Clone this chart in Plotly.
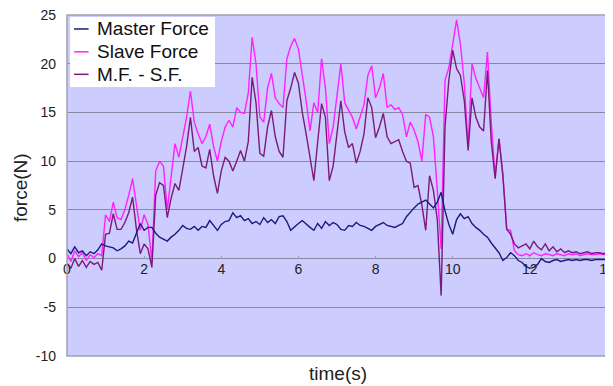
import plotly.graph_objects as go

time_s = [round(i * 0.1, 1) for i in range(141)]

master_force = [
    1.0, 0.5, 1.2, 0.6, 0.8, 0.3, 0.7, 0.5, 0.9, 1.5,
    1.3, 1.2, 1.1, 0.8, 1.0, 1.3, 1.8, 1.6, 2.6, 3.6,
    2.9, 3.2, 3.2, 2.6, 2.2, 2.0, 1.8, 2.2, 2.5, 2.9,
    3.4, 3.1, 3.0, 3.3, 2.9, 3.3, 3.2, 3.9, 3.4, 2.9,
    3.5, 3.8, 3.9, 4.7, 4.2, 4.4, 3.9, 4.1, 3.6, 3.8,
    3.5, 4.2, 3.7, 4.0, 3.6, 4.3, 4.4, 3.8, 2.9, 3.3,
    3.6, 3.9, 3.5, 3.2, 2.9, 3.6, 3.1, 3.8, 3.4, 3.7,
    3.5, 3.0, 2.9, 3.4, 3.3, 3.7, 3.4, 3.3, 3.1, 2.9,
    3.3, 3.5, 3.7, 3.4, 3.3, 3.2, 3.4, 3.6, 4.3, 4.8,
    5.2, 5.6, 5.8, 6.0, 5.6, 5.2, 5.8, 6.8, 4.9, 3.5,
    2.5, 4.0, 4.6, 4.1, 4.3, 3.6, 3.2, 2.9, 2.5, 2.2,
    1.6, 1.1, 0.6, -0.2, 0.1, 0.6, 0.3, -0.2, -0.4, -0.8,
    -1.0, -0.9, -0.6, 0.0, -0.3, -0.4, -0.2, -0.1, -0.3, -0.2,
    -0.1, -0.2, -0.1, -0.2, -0.1, -0.1, -0.2, -0.1, -0.1, -0.1,
    -0.1,
]

slave_force = [
    0.5, -0.3, 0.8, 0.2, 0.6, -0.2, 0.4, 0.1, 0.5, 0.3,
    4.5, 3.8, 5.8, 4.2, 4.0, 5.0, 6.5, 8.2, 5.5, 2.9,
    4.5, 3.5, -0.3, 9.0, 10.0, 9.5, 5.0, 8.5, 11.8, 10.4,
    12.5, 14.5, 17.2, 14.0, 12.8, 11.8, 12.5, 13.8, 11.5, 10.0,
    12.0, 13.5, 14.2, 13.5, 15.5, 15.0, 14.9, 17.0, 22.7, 20.0,
    14.5, 14.0, 17.5, 19.0, 16.5, 15.9, 15.5, 20.5, 21.8, 22.6,
    21.5, 19.0, 16.2, 13.1, 16.0, 15.0, 20.5, 17.5, 11.8, 13.5,
    17.0, 20.0, 16.0, 15.3, 14.5, 13.3, 14.5, 15.8, 18.8, 19.8,
    16.5, 17.5, 19.0, 15.5, 15.8, 15.3, 15.5, 14.8, 12.5, 14.0,
    13.2, 12.0, 10.0, 14.8, 14.5, 12.5, 7.0, 1.0, 18.3, 19.6,
    22.0, 24.5, 22.0, 18.0, 11.5, 20.0, 18.5, 17.5, 16.5, 21.2,
    14.0, 8.5, 12.3, 8.7, 3.0, 2.9, 0.8, 0.4, 0.3, 0.5,
    0.3, 0.6, 0.4, 0.3, 0.5, 0.4, 0.3, 0.5, 0.4, 0.3,
    0.5, 0.4, 0.5, 0.3, 0.4, 0.5, 0.4, 0.4, 0.5, 0.4,
    0.4,
]

mf_minus_sf = [
    -0.5, -1.0, 0.0, -0.8, -0.2, -0.9, -0.3, -0.6, -0.4, -1.2,
    2.5, 2.6, 4.6, 3.0, 3.0, 3.7, 4.7, 6.3, 3.0, 0.5,
    1.5, 1.0, -0.9, 6.5, 7.8, 7.5, 4.2, 6.2, 7.7, 7.0,
    9.2, 11.5, 14.5, 11.0, 11.4, 9.5, 9.3, 11.2, 8.5, 6.7,
    9.0, 10.4, 10.0, 9.0, 10.0, 11.1, 10.0, 12.0, 18.6, 16.0,
    10.8, 10.5, 13.5, 15.2, 12.5, 11.0, 10.4, 16.2, 17.5, 19.1,
    18.0, 15.0, 12.8, 10.4, 8.0, 12.0, 15.9, 14.5, 8.0, 9.5,
    13.0, 16.2, 13.0, 11.4, 11.8, 9.8, 11.0, 12.8, 16.5, 15.5,
    12.4, 13.5, 14.9, 12.5, 11.8, 12.0, 12.2, 11.0, 10.0, 9.8,
    7.3, 7.5, 5.5, 2.9, 8.5, 7.0, 4.0, -3.8, 13.5, 18.3,
    21.4, 19.5, 18.8, 16.2, 11.1, 16.5, 14.5, 13.5, 13.1, 19.3,
    12.0, 8.2, 12.3, 8.5, 3.0, 2.5, 1.5, 1.1, 1.3, 1.5,
    1.0, 1.8, 1.2, 0.9, 1.5, 0.8, 1.2, 0.7, 1.0, 0.6,
    0.8, 0.6, 0.7, 0.5, 0.6, 0.7, 0.5, 0.6, 0.6, 0.5,
    0.6,
]

y_ticks = [-10, -5, 0, 5, 10, 15, 20, 25]
x_ticks = [0, 2, 4, 6, 8, 10, 12, 14]

series_names = ["Master Force", "Slave Force", "M.F. - S.F."]
series_colors = ["#1A1A80", "#FF22FF", "#7A1A7A"]

fig = go.Figure()
fig.add_trace(go.Scatter(x=time_s, y=slave_force, mode="lines", name=series_names[1],
                         line=dict(color=series_colors[1], width=1.4)))
fig.add_trace(go.Scatter(x=time_s, y=mf_minus_sf, mode="lines", name=series_names[2],
                         line=dict(color=series_colors[2], width=1.4)))
fig.add_trace(go.Scatter(x=time_s, y=master_force, mode="lines", name=series_names[0],
                         line=dict(color=series_colors[0], width=1.4)))

# custom legend (short line samples like the reference)
shapes = [dict(type="rect", xref="x domain", yref="y domain", x0=0, x1=1, y0=0, y1=1,
               line=dict(color="#A0A0B0", width=1.5), fillcolor="rgba(0,0,0,0)",
               layer="above"),
          dict(type="rect", xref="x domain", yref="y domain", x0=0.0056, x1=0.274,
               y0=0.789, y1=0.994, line=dict(width=0), fillcolor="white", layer="above")]
annotations = []
legend_y = [0.959, 0.892, 0.826]
for name, color, ly in zip(series_names, series_colors, legend_y):
    shapes.append(dict(type="line", xref="x domain", yref="y domain", x0=0.013, x1=0.040,
                       y0=ly, y1=ly, line=dict(color=color, width=1.5), layer="above"))
    annotations.append(dict(text=name, xref="x domain", yref="y domain", x=0.052, y=ly,
                            xanchor="left", yanchor="middle", showarrow=False,
                            font=dict(size=19, color="#111111")))

annotations += [
    dict(text="time(s)", xref="paper", yref="paper", x=0.502, y=-0.05,
         xanchor="center", yanchor="middle", showarrow=False, font=dict(size=19)),
    dict(text="force(N)", xref="paper", yref="paper", x=-0.085, y=0.493,
         xanchor="center", yanchor="middle", showarrow=False, textangle=-90,
         font=dict(size=19)),
]

# page body has an 8px default margin, so the figure is sized/offset to compensate
fig.update_layout(
    width=605, height=378,
    margin=dict(l=59, r=6, t=7, b=30),
    paper_bgcolor="white",
    plot_bgcolor="#CCCCFF",
    font=dict(family="Liberation Sans, Arial, sans-serif", color="#222222"),
    showlegend=False,
    xaxis=dict(range=[0, 14], tickvals=x_ticks, ticktext=[str(v) for v in x_ticks],
               anchor="free", position=10 / 35, showgrid=False, zeroline=False,
               showline=False, ticks="inside", ticklen=3, tickcolor="#9999BB",
               tickfont=dict(size=14), automargin=False, ticklabeloverflow="allow"),
    yaxis=dict(range=[-10, 25], tickvals=y_ticks, ticktext=[str(v) for v in y_ticks],
               showgrid=True, gridcolor="#8888A0", gridwidth=1,
               zeroline=True, zerolinecolor="#8888A0", zerolinewidth=1,
               showline=False, ticks="", tickfont=dict(size=14),
               ticklabelstandoff=10, automargin=False, ticklabeloverflow="allow"),
    shapes=shapes,
    annotations=annotations,
)

fig.write_html("out.html")
